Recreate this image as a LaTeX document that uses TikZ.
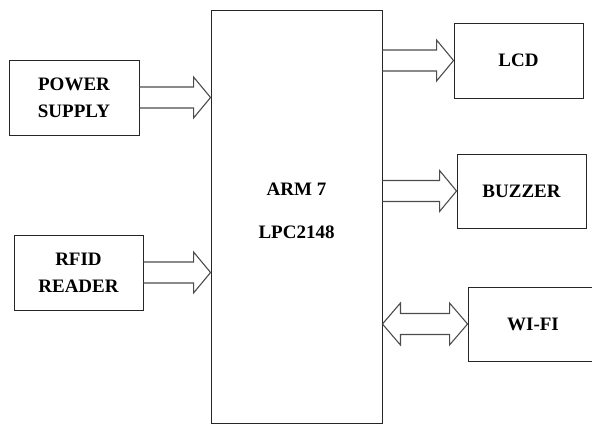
\documentclass[tikz,border=0pt]{standalone}
\usepackage{fontspec}
\setmainfont{Liberation Serif}
\usetikzlibrary{calc}

% hollow block arrows (outline only), from #1 to #2 on one height
\newcommand{\fatarrow}[2]{%
  \draw[pipe] let \p1=(#1), \p2=(#2) in
    (\x1,{\y1+10.5pt}) -- ({\x2-17pt},{\y1+10.5pt}) -- ({\x2-17pt},{\y1+20.5pt})
    -- (\x2,\y1) -- ({\x2-17pt},{\y1-20.5pt}) -- ({\x2-17pt},{\y1-10.5pt})
    -- (\x1,{\y1-10.5pt});}
\newcommand{\fatarrowboth}[2]{%
  \draw[pipe] let \p1=(#1), \p2=(#2) in
    (\x1,\y1) -- ({\x1+18pt},{\y1+21pt}) -- ({\x1+18pt},{\y1+10.5pt})
    -- ({\x2-18pt},{\y1+10.5pt}) -- ({\x2-18pt},{\y1+21pt}) -- (\x2,\y1)
    -- ({\x2-18pt},{\y1-21pt}) -- ({\x2-18pt},{\y1-10.5pt})
    -- ({\x1+18pt},{\y1-10.5pt}) -- ({\x1+18pt},{\y1-21pt}) -- cycle;}

\begin{document}
\begin{tikzpicture}[
    x=1pt, y=-1pt,
    box/.style = {
        rectangle, draw=black!85, line width=0.9pt,
        minimum width=129pt, minimum height=75pt,
        align=center, inner sep=0pt,
        font=\fontsize{19}{27}\selectfont\bfseries
    },
    cpu/.style = {
        box, minimum width=171pt, minimum height=413pt,
        text height=56pt, text depth=14pt,
        font=\fontsize{19}{43}\selectfont\bfseries
    },
    pipe/.style = {draw=black!70, line width=1.1pt, line join=miter}
]
\useasboundingbox (0,0) rectangle (592,426);

% Microcontroller
\node[cpu] (cpu) at (296.5,217) {ARM 7\\LPC2148};

% Inputs
\node[box, minimum width=130pt] (pwr) at (74,97.5) {POWER\\SUPPLY};
\node[box] (rfid) at (78.5,272.5) {RFID\\READER};

% Outputs
\node[box] (lcd)  at (518.5,60.5) {LCD};
\node[box, minimum height=74pt] (buzz) at (521.5,191) {BUZZER};
\node[box, minimum width=130pt, minimum height=74pt] (wifi) at (533,324) {WI-FI};

% Arrows
\fatarrow{pwr.east}{cpu.west |- pwr.east}
\fatarrow{rfid.east}{cpu.west |- rfid.east}
\fatarrow{cpu.east |- lcd.west}{lcd.west}
\fatarrow{cpu.east |- buzz.west}{buzz.west}
\fatarrowboth{cpu.east |- wifi.west}{wifi.west}

\end{tikzpicture}
\end{document}
